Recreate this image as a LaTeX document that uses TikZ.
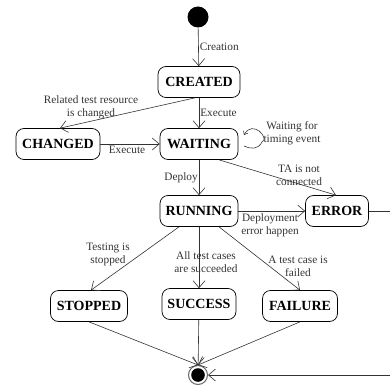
\documentclass[tikz,border=0pt]{standalone}
\usepackage{fontspec}
\setmainfont{Liberation Serif}
\usetikzlibrary{arrows.meta}
\begin{document}
\begin{tikzpicture}[x=1pt,y=-1pt,
 st/.style={draw, rounded corners=8pt, minimum height=31pt, font=\bfseries\fontsize{14}{15}\selectfont, inner xsep=3pt, line width=0.7pt},
 tr/.style={-{Straight Barb[length=7pt,width=12pt]}, line width=0.6pt, draw=black!80},
 ln/.style={line width=0.6pt, draw=black!80},
 lb/.style={font=\fontsize{11.3}{13}\selectfont, text=black!80, align=center, inner sep=1pt}]
\useasboundingbox (0,0) rectangle (390,385);
% states
\node[circle, fill=black, minimum size=21pt, inner sep=0pt] (init) at (198,17) {};
\node[st, minimum width=82pt] (created) at (199,82) {CREATED};
\node[st, minimum width=84pt] (changed) at (58,144) {CHANGED};
\node[st, minimum width=78pt] (waiting) at (199,144) {WAITING};
\node[st, minimum width=78pt] (running) at (199,211) {RUNNING};
\node[st, minimum width=63pt] (error) at (337,211) {ERROR};
\node[st, minimum width=77pt] (stopped) at (89,306) {STOPPED};
\node[st, minimum width=74pt] (success) at (199,304) {SUCCESS};
\node[st, minimum width=75pt] (failure) at (300,306) {FAILURE};
\node[circle, draw=black!60, line width=1pt, minimum size=19pt, inner sep=0pt,
  path picture={\fill[black] (path picture bounding box.center) circle (6.8pt);}] (fin) at (198,375) {};
\coordinate (e1) at (392,211);
\coordinate (e2) at (392,375);
\coordinate (s1) at (244,135);
\coordinate (s2) at (244,146);
% transitions
\draw[tr] (init) -- node[lb, right, pos=0.5] {Creation} (created);
\draw[tr] ([xshift=-4pt]created.south) -- ([xshift=2pt]changed.north);
\node[lb] (l1) at (91,107) {Related test resource\\is changed};
\draw[tr] (created) -- node[lb, right, pos=0.5] {Execute} (waiting);
\draw[tr] (changed) -- node[lb, below, pos=0.45, yshift=-1pt] {Execute} (waiting);
\draw[line width=0.6pt, draw=black!80, -{Straight Barb[length=3pt,width=5pt]}, {Straight Barb[length=3pt,width=5pt]}-]
  (s1) .. controls (253,119) and (270,139) .. (262,142) .. controls (258,150) and (250,149) .. (s2);
\node[lb] (l2) at (292,133) {Waiting for\\timing event};
\draw[tr] (waiting) -- node[lb, left, pos=0.5] {Deploy} (running);
\draw[tr] ([xshift=20pt]waiting.south) -- ([xshift=-1pt]error.north);
\node[lb] (l3) at (299,175) {TA is not\\connected};
\draw[tr] (running) -- (error);
\node[lb] (l4) at (270,225) {Deployment\\error happen};
\draw[tr] ([xshift=-20pt]running.south) -- ([xshift=2pt]stopped.north);
\node[lb] (l5) at (108,254) {Testing is\\stopped};
\draw[tr] (running) -- (success);
\node[lb] (l6) at (206,262) {All test cases\\are succeeded};
\draw[tr] ([xshift=20pt]running.south) -- (failure.north);
\node[lb] (l7) at (298,266) {A test case is\\failed};
\draw[tr] (stopped.south) -- (fin.north);
\draw[tr] (success) -- (fin);
\draw[tr] (failure.south) -- (fin.north);
\draw[ln] (error) -- (e1) -- (e2);
\draw[tr] (e2) -- (fin);
\end{tikzpicture}
\end{document}
